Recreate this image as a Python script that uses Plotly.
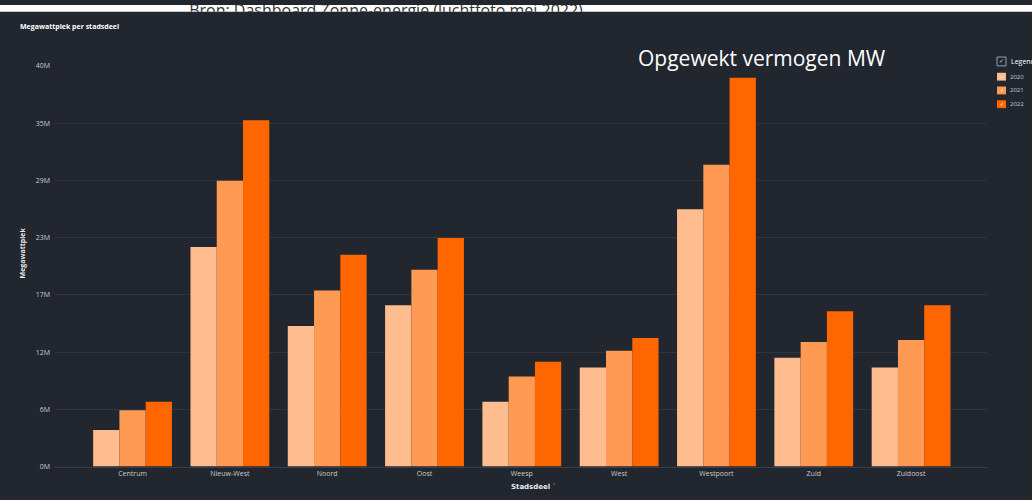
import plotly.graph_objects as go

categories = ["Centrum", "Nieuw-West", "Noord", "Oost", "Weesp", "West", "Westpoort", "Zuid", "Zuidoost"]
years = ["2020", "2021", "2022"]
values_2020 = [3.7, 22.2, 14.2, 16.3, 6.55, 10.0, 26.0, 11.0, 10.0]
values_2021 = [5.7, 28.9, 17.8, 19.9, 9.1, 11.7, 30.5, 12.6, 12.8]
values_2022 = [6.55, 35.0, 21.4, 23.1, 10.6, 13.0, 39.3, 15.7, 16.3]
tick_vals = [0, 5.786, 11.571, 17.357, 23.143, 28.929, 34.714, 40.5]
tick_text = ["0M", "6M", "12M", "17M", "23M", "29M", "35M", "40M"]

colors = ["#FFBD8F", "#FF9A55", "#FF6600"]
series = [values_2020, values_2021, values_2022]

W, H = 1032, 500
BG = "#22262E"
GRID = "#30343C"
TXT = "#C9CCD1"

fig = go.Figure()
for name, vals, col in zip(years, series, colors):
    fig.add_trace(go.Bar(x=categories, y=vals, name=name, marker=dict(color=col, line=dict(width=0)),
                         xaxis="x", yaxis="y", showlegend=False))

# source caption in a thin top strip, clipped by the strip's own axes
fig.add_trace(go.Scatter(x=[386], y=[-0.5], mode="text", text=["Bron: Dashboard Zonne-energie (luchtfoto mei 2022)"],
                         textposition="middle center", textfont=dict(family="Open Sans", size=16, color="#333333"),
                         xaxis="x2", yaxis="y2", showlegend=False, cliponaxis=True, hoverinfo="skip"))

def py(p):
    return 1 - p / H

def px(p):
    return p / W

shapes = [
    dict(type="rect", xref="paper", yref="paper", x0=0, x1=1, y0=py(7), y1=1,
         fillcolor="#FFFFFF", line=dict(width=0), layer="below"),
    # legend header checkbox
    dict(type="rect", xref="paper", yref="paper", x0=px(997), x1=px(1006), y0=py(62), y1=py(53),
         fillcolor="rgba(0,0,0,0)", line=dict(color="#9AA0A8", width=1), layer="above"),
]
annotations = [
    dict(text="<b>Megawattpiek per stadsdeel</b>", x=px(18), y=py(22), xref="paper", yref="paper",
         xanchor="left", yanchor="middle", showarrow=False, font=dict(size=7, color="#FFFFFF")),
    dict(text="Opgewekt vermogen MW", x=px(762), y=py(54), xref="paper", yref="paper",
         xanchor="center", yanchor="middle", showarrow=False,
         font=dict(family="Open Sans", size=21, color="#FFFFFF")),
    dict(text="<b>Megawattpiek</b>", x=px(22), y=py(253), xref="paper", yref="paper",
         xanchor="center", yanchor="middle", showarrow=False, textangle=-90,
         font=dict(size=7, color="#E6E8EB")),
    dict(text="<b>Stadsdeel</b> <span style='color:#8A9099'>˅</span>", x=px(533), y=py(491),
         xref="paper", yref="paper", xanchor="center", yanchor="middle", showarrow=False,
         font=dict(family="DejaVu Sans", size=7, color="#E6E8EB")),
    dict(text="✓", x=px(1001.5), y=py(57.5), xref="paper", yref="paper", xanchor="center", yanchor="middle",
         showarrow=False, font=dict(size=6, color="#C9CCD1")),
    dict(text="Legend", x=px(1009), y=py(58), xref="paper", yref="paper", xanchor="left", yanchor="middle",
         showarrow=False, font=dict(size=7, color="#FFFFFF")),
]
legend_y = [73, 87, 101]
for name, col, yc in zip(years, colors, legend_y):
    shapes.append(dict(type="rect", xref="paper", yref="paper", x0=px(997), x1=px(1006),
                       y0=py(yc + 4), y1=py(yc - 4), fillcolor=col, line=dict(width=0), layer="above"))
    annotations.append(dict(text="✓", x=px(1001.5), y=py(yc), xref="paper", yref="paper",
                            xanchor="center", yanchor="middle", showarrow=False,
                            font=dict(size=5, color="#FFFFFF")))
    annotations.append(dict(text=name, x=px(1008), y=py(yc), xref="paper", yref="paper",
                            xanchor="left", yanchor="middle", showarrow=False,
                            font=dict(size=6, color=TXT)))

fig.update_layout(
    width=W, height=H,
    margin=dict(l=0, r=0, t=0, b=0),
    paper_bgcolor=BG, plot_bgcolor="rgba(0,0,0,0)",
    barmode="group", bargap=0.19, bargroupgap=0,
    font=dict(family="Open Sans", size=7, color=TXT),
    xaxis=dict(domain=[px(55), px(987)], range=[-0.797, 8.78], showgrid=False, showline=True,
               linecolor="#3A3E46", linewidth=1, ticks="", tickfont=dict(size=7, color=TXT),
               anchor="y", zeroline=False),
    yaxis=dict(domain=[py(470), py(62)], range=[0, 40.5], tickvals=tick_vals, ticktext=tick_text,
               showgrid=True, gridcolor=GRID, gridwidth=1, zeroline=False, ticks="",
               tickfont=dict(size=7, color=TXT), anchor="x", ticklabelstandoff=4),
    xaxis2=dict(domain=[0, 1], range=[0, W], visible=False, anchor="y2", fixedrange=True),
    yaxis2=dict(domain=[py(7), 1], range=[0, 7], visible=False, anchor="x2", fixedrange=True),
    showlegend=False,
    shapes=shapes,
    annotations=annotations,
)

fig.write_html("out.html", config={"displayModeBar": False},
               post_script="document.body.style.margin='0';document.body.style.padding='0';")
